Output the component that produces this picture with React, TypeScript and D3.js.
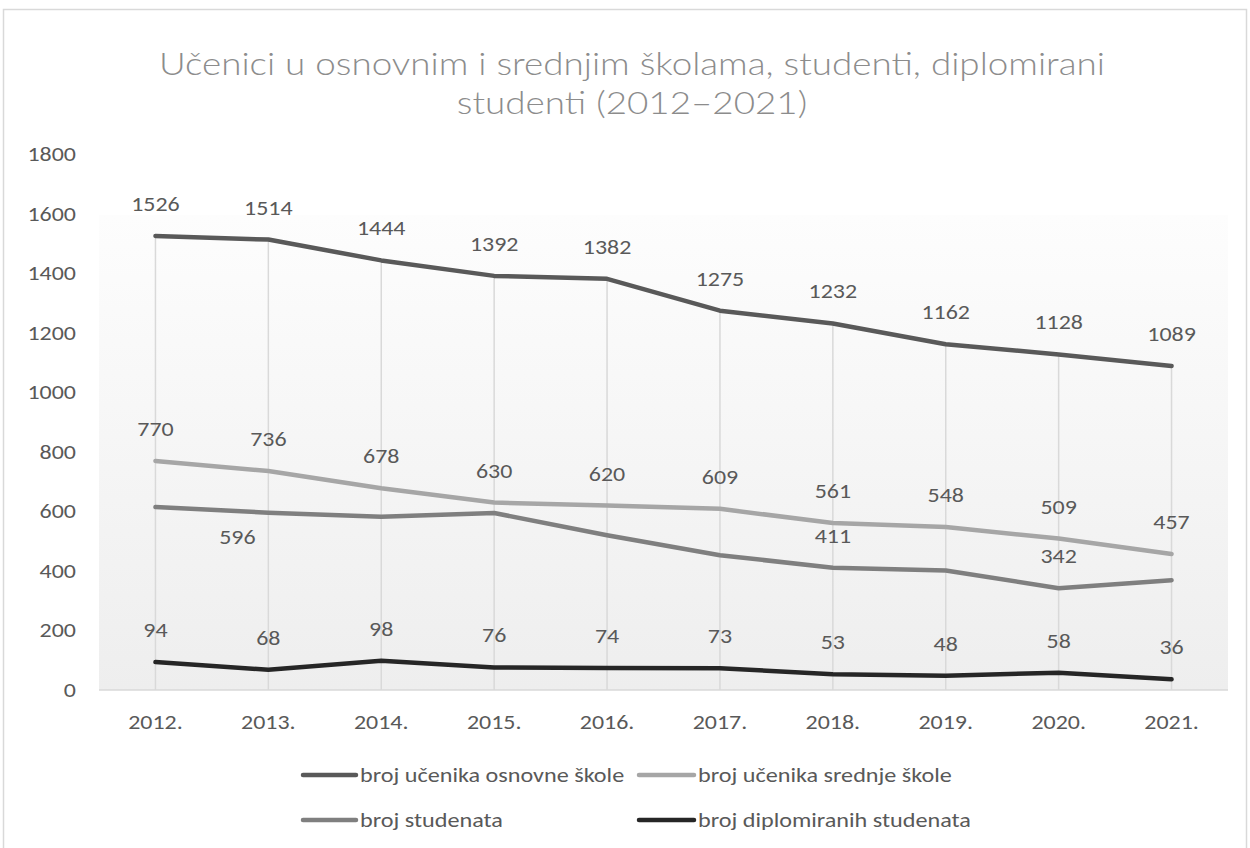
import React from "react";
import * as d3 from "d3";

const years = ["2012.", "2013.", "2014.", "2015.", "2016.", "2017.", "2018.", "2019.", "2020.", "2021."];
const osnovne = [1526, 1514, 1444, 1392, 1382, 1275, 1232, 1162, 1128, 1089];
const srednje = [770, 736, 678, 630, 620, 609, 561, 548, 509, 457];
const studenti = [615, 596, 582, 595, 520, 453, 411, 402, 342, 369];
const diplomirani = [94, 68, 98, 76, 74, 73, 53, 48, 58, 36];
const studentiLabelIdx = [1, 6, 8];
const yTicks = [0, 200, 400, 600, 800, 1000, 1200, 1400, 1600, 1800];
const seriesNames = [
  "broj učenika osnovne škole",
  "broj učenika srednje škole",
  "broj studenata",
  "broj diplomiranih studenata",
];
const titleLines = [
  "Učenici u osnovnim i srednjim školama, studenti, diplomirani",
  "studenti (2012–2021)",
];

const FONT = "Carlito, Lato, 'Open Sans', sans-serif";

type TProps = {
  x: number;
  y: number;
  size: number;
  sx: number;
  anchor?: "start" | "middle" | "end";
  fill?: string;
  weight?: number;
  family?: string;
  children: React.ReactNode;
};

function T({ x, y, size, sx, anchor = "middle", fill = "#595959", weight = 400, family, children }: TProps) {
  return (
    <text
      transform={`translate(${x},${y}) scale(${sx},1)`}
      textAnchor={anchor}
      dominantBaseline="central"
      fontSize={size}
      fontWeight={weight}
      fontFamily={family}
      fill={fill}
    >
      {children}
    </text>
  );
}

export default function App() {
  const W = 1250;
  const H = 848;
  const x = d3.scaleBand<string>().domain(years).range([99, 1228]);
  const cx = (i: number) => (x(years[i]) as number) + x.bandwidth() / 2;
  const y = d3.scaleLinear().domain([0, 1800]).range([690, 154.5]);

  const series = [
    { name: seriesNames[0], values: osnovne, color: "#595959", labels: osnovne.map((_, i) => i) },
    { name: seriesNames[1], values: srednje, color: "#a6a6a6", labels: srednje.map((_, i) => i) },
    { name: seriesNames[2], values: studenti, color: "#7f7f7f", labels: studentiLabelIdx },
    { name: seriesNames[3], values: diplomirani, color: "#262626", labels: diplomirani.map((_, i) => i) },
  ];

  const line = d3
    .line<number>()
    .x((_, i) => cx(i))
    .y((d) => y(d));

  const maxes = years.map((_, i) => d3.max(series, (s) => s.values[i]) as number);

  const legendPos = [
    { x1: 303, x2: 356, ty: 775 },
    { x1: 639, x2: 694, ty: 775 },
    { x1: 303, x2: 356, ty: 820 },
    { x1: 639, x2: 694, ty: 820 },
  ];

  const NUM = 21;
  const NSX = 1.14;

  return (
    <svg
      width={W}
      height={H}
      style={{ position: "absolute", left: 0, top: 0, display: "block" }}
      fontFamily={FONT}
    >
      <defs>
        <linearGradient id="plotbg" x1="0" y1="0" x2="0" y2="1">
          <stop offset="0%" stopColor="#fdfdfd" />
          <stop offset="100%" stopColor="#eeeeee" />
        </linearGradient>
      </defs>
      <rect x={0} y={0} width={W} height={H} fill="#ffffff" />
      <rect x={3.5} y={9.5} width={1243} height={850} fill="#ffffff" stroke="#d9d9d9" strokeWidth={1.5} />

      {/* plot background */}
      <rect x={99} y={215} width={1228 - 99} height={690 - 215} fill="url(#plotbg)" />

      {/* title */}
      {titleLines.map((t, i) => (
        <T key={i} x={632} y={62 + i * 39} size={32} sx={1.15} weight={300} fill="#8c8c8c"
          family="'Lato Light', Carlito, Lato, sans-serif">
          {t}
        </T>
      ))}

      {/* y axis labels */}
      {yTicks.map((t) => (
        <T key={t} x={76} y={y(t)} size={NUM} sx={NSX} anchor="end">
          {t}
        </T>
      ))}

      {/* drop lines */}
      {years.map((yr, i) => (
        <line key={yr} x1={cx(i)} x2={cx(i)} y1={y(maxes[i])} y2={y(0)} stroke="#d9d9d9" strokeWidth={1.5} />
      ))}

      {/* x axis */}
      <line x1={99} x2={1228} y1={690} y2={690} stroke="#d9d9d9" strokeWidth={1.5} />
      {years.map((yr, i) => (
        <T key={yr} x={cx(i)} y={722} size={NUM} sx={NSX}>
          {yr}
        </T>
      ))}

      {/* series lines */}
      {series.map((s) => (
        <path
          key={s.name}
          d={line(s.values) as string}
          fill="none"
          stroke={s.color}
          strokeWidth={4.5}
          strokeLinejoin="round"
          strokeLinecap="round"
        />
      ))}

      {/* data labels */}
      {series.map((s, si) =>
        s.labels.map((i) => {
          const special = si === 2 && i === 1;
          const lx = special ? cx(i) - 31 : cx(i);
          const ly = special ? y(s.values[i]) + 24 : y(s.values[i]) - 32;
          return (
            <T key={s.name + i} x={lx} y={ly} size={NUM} sx={NSX}>
              {s.values[i]}
            </T>
          );
        })
      )}

      {/* legend */}
      {series.map((s, i) => {
        const p = legendPos[i];
        return (
          <g key={s.name}>
            <line x1={p.x1} x2={p.x2} y1={p.ty} y2={p.ty} stroke={s.color} strokeWidth={4.5} strokeLinecap="round" />
            <T x={p.x2 + 4} y={p.ty} size={20.5} sx={1.18} anchor="start">
              {s.name}
            </T>
          </g>
        );
      })}
    </svg>
  );
}
